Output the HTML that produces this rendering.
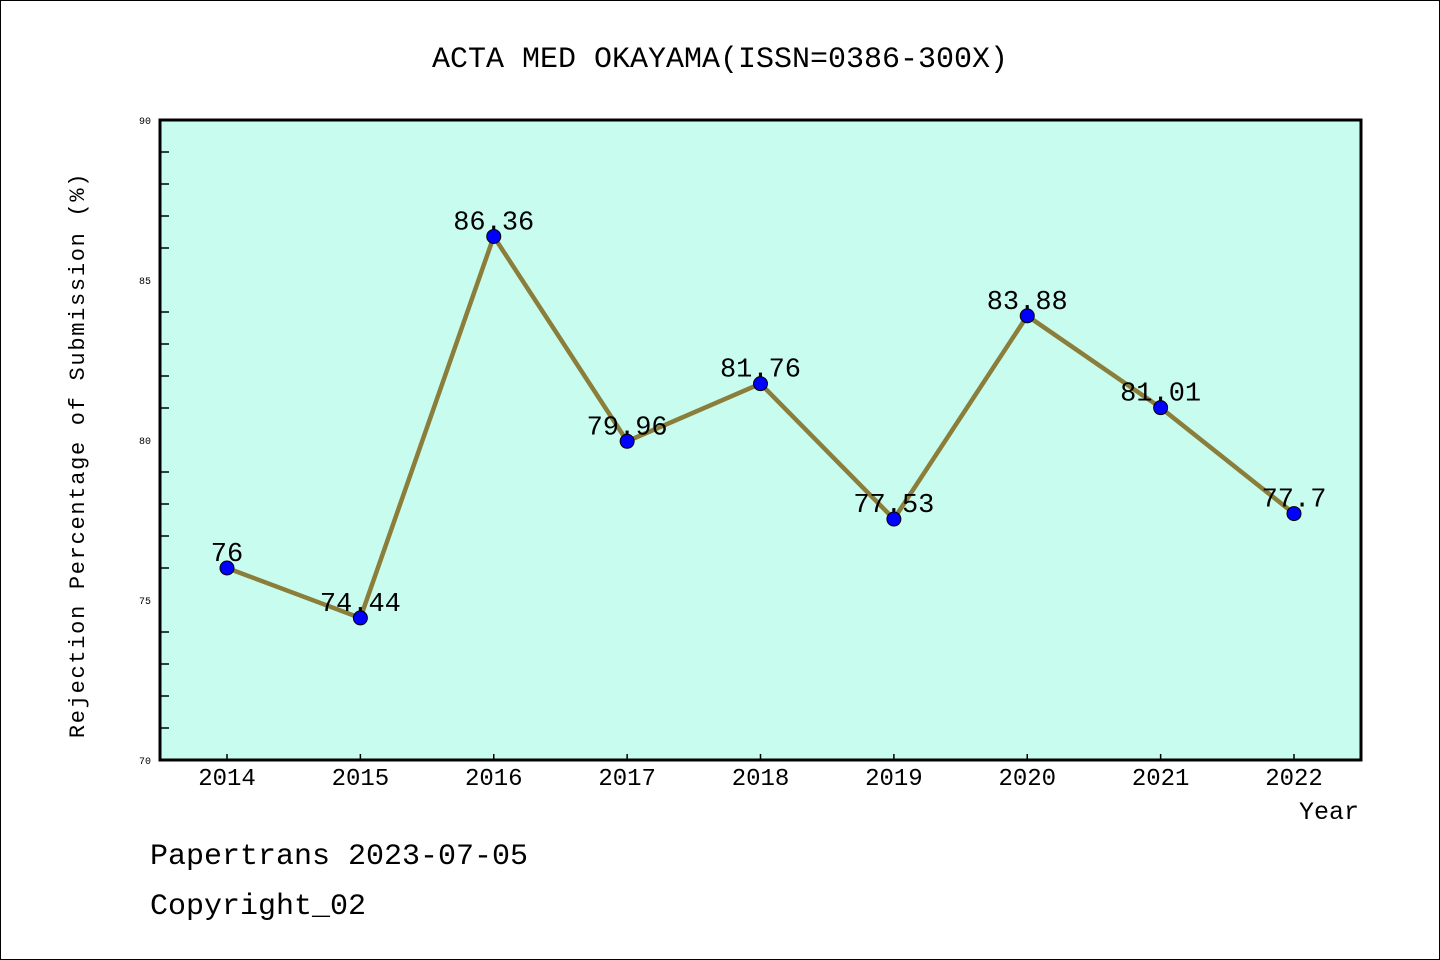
<!DOCTYPE html>
<html><head><meta charset="utf-8"><style>
body{margin:0;background:#fff}
svg{display:block}
text{font-family:"Liberation Mono","WenQuanYi Zen Hei",monospace}
</style></head><body>
<svg id="c" width="1440" height="960" xmlns="http://www.w3.org/2000/svg">
<rect x="0.5" y="0.5" width="1439" height="959" fill="#fff" stroke="#000"/>
<text x="720" y="67" font-size="30" text-anchor="middle">ACTA MED OKAYAMA(ISSN=0386-300X)</text>
<rect x="160" y="120" width="1201" height="640" fill="#c8fcee"/>
<g id="axes"></g>
<rect x="160" y="120" width="1201" height="640" fill="none" stroke="#000" stroke-width="3"/>
<text x="84" y="455" font-size="22" text-anchor="middle" transform="rotate(-90 84 455)" letter-spacing="1.7">Rejection Percentage of Submission (%)</text>
<text x="1359" y="819" font-size="25" text-anchor="end">Year</text>
<text x="150" y="864" font-size="30">Papertrans 2023-07-05</text>
<text x="150" y="914" font-size="30">Copyright_02</text>
<g id="marks"></g>
</svg>
<script>
const years=["2014","2015","2016","2017","2018","2019","2020","2021","2022"];
const values=[76,74.44,86.36,79.96,81.76,77.53,83.88,81.01,77.7];
const valueLabels=["76","74.44","86.36","79.96","81.76","77.53","83.88","81.01","77.7"];
const yTicks=[70,75,80,85,90];
const NS="http://www.w3.org/2000/svg";
const x=i=>227+i*(1294-227)/(years.length-1);
const y=v=>760-(v-70)*32;
function mk(t,a,p){const e=document.createElementNS(NS,t);for(const k in a)e.setAttribute(k,a[k]);p.appendChild(e);return e;}
const ax=document.getElementById('axes'),mg=document.getElementById('marks');
for(let v=71;v<90;v++){if(v%5===0)continue;const t=mk('line',{x1:160,x2:169,y1:y(v),y2:y(v),stroke:'#000','stroke-width':1.5},ax);

}
yTicks.forEach(v=>{const t=mk('text',{x:151,y:y(v)+4,'font-size':10,'text-anchor':'end'},ax);t.textContent=v;

});
years.forEach((yr,i)=>{const l=mk('line',{x1:x(i),x2:x(i),y1:760,y2:754,stroke:'#000','stroke-width':1.5},ax);


const t=mk('text',{x:x(i),y:785,'font-size':24,'text-anchor':'middle'},ax);t.textContent=yr;

});
const pl=mk('polyline',{points:values.map((v,i)=>x(i)+','+y(v)).join(' '),fill:'none',stroke:'#8b7d3a','stroke-width':4.5},mg);


values.forEach((v,i)=>{const c=mk('circle',{cx:x(i),cy:y(v),r:7,fill:'#0000ff',stroke:'#000','stroke-width':1},mg);


const t=mk('text',{x:x(i),y:y(v)-7,'font-size':27,'text-anchor':'middle'},mg);t.textContent=valueLabels[i];

});
</script>
</body></html>
